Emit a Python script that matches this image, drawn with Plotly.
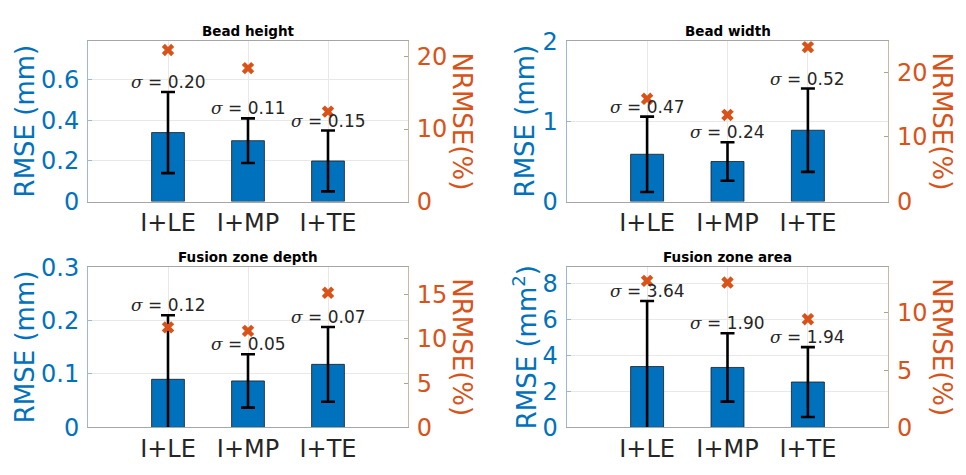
import plotly.graph_objects as go

categories = ["I+LE", "I+MP", "I+TE"]
titles = ["Bead height", "Bead width", "Fusion zone depth", "Fusion zone area"]
left_titles = ["RMSE (mm)", "RMSE (mm)", "RMSE (mm)", "RMSE (mm<sup>2</sup>)"]
right_title = "NRMSE(%)"

rmse_height = [0.34, 0.30, 0.20]
sigma_height = [0.20, 0.11, 0.15]
nrmse_height = [20.9, 18.4, 12.4]

rmse_width = [0.59, 0.50, 0.89]
sigma_width = [0.47, 0.24, 0.52]
nrmse_width = [15.9, 13.4, 23.9]

rmse_depth = [0.090, 0.087, 0.118]
sigma_depth = [0.12, 0.05, 0.07]
nrmse_depth = [11.3, 10.9, 15.2]

rmse_area = [3.38, 3.33, 2.52]
sigma_area = [3.64, 1.90, 1.94]
nrmse_area = [12.8, 12.65, 9.45]

left_ranges = [[0, 0.79], [0, 2], [0, 0.3], [0, 8.9]]
left_ticks = [[0, 0.2, 0.4, 0.6], [0, 1, 2], [0, 0.1, 0.2, 0.3], [0, 2, 4, 6, 8]]
right_ranges = [[0, 22.1], [0, 24.8], [0, 18.1], [0, 14.0]]
right_ticks = [[0, 10, 20], [0, 10, 20], [0, 5, 10, 15], [0, 5, 10]]

rmse = [rmse_height, rmse_width, rmse_depth, rmse_area]
sigma = [sigma_height, sigma_width, sigma_depth, sigma_area]
nrmse = [nrmse_height, nrmse_width, nrmse_depth, nrmse_area]

W, H = 966, 475
BLUE = "#0072BD"
ORANGE = "#D95319"
DARK = "#262626"

# plot areas in pixels (left, right, top, bottom)
boxes = [(88, 408, 29, 199.3), (566.7, 888.3, 29, 199.3),
         (88, 408, 269, 439.3), (566.7, 888.3, 269, 439.3)]
title_y = [18, 18, 258.5, 258.5]
left_title_x = [25, 525, 25, 525]
right_title_x = [462, 942, 462, 942]

fig = go.Figure()
layout = dict(width=W, height=H, margin=dict(l=0, r=0, t=0, b=0), autosize=False,
              paper_bgcolor="white", plot_bgcolor="white", showlegend=False,
              bargap=0.59, annotations=[])

for i in range(4):
    n = i + 1
    xa = "x" if n == 1 else f"x{n}"
    yl = "y" if n == 1 else f"y{2*i+1}"
    yr = f"y{2*i+2}"
    l, r, t, b = boxes[i]
    xdom = [l / W, r / W]
    ydom = [1 - b / H, 1 - t / H]

    fig.add_trace(go.Bar(
        x=categories, y=rmse[i], xaxis=xa, yaxis=yl,
        marker=dict(color=BLUE, line=dict(color="#1a1a1a", width=0.8)),
        error_y=dict(type="data", array=sigma[i], color="black", thickness=2.6, width=7),
    ))
    fig.add_trace(go.Scatter(
        x=categories, y=nrmse[i], xaxis=xa, yaxis=yr, mode="markers",
        marker=dict(symbol="x", size=11, color=ORANGE, line=dict(width=0)),
    ))

    xkey = "xaxis" if n == 1 else f"xaxis{n}"
    ylkey = "yaxis" if n == 1 else f"yaxis{2*i+1}"
    yrkey = f"yaxis{2*i+2}"
    layout[xkey] = dict(domain=xdom, anchor=yl, type="category", range=[-1, 3],
                        showline=True, mirror=True, linecolor="#a6a6a6", linewidth=1,
                        showgrid=True, gridcolor="#e8e8e8", ticks="",
                        tickfont=dict(family="DejaVu Sans", size=24, color=DARK),
                        fixedrange=True)
    layout[ylkey] = dict(domain=ydom, anchor=xa, range=left_ranges[i], tickvals=left_ticks[i],
                         showline=True, linecolor="#9fb7cc", linewidth=1,
                         showgrid=True, gridcolor="#e8e8e8", zeroline=False,
                         ticks="inside", ticklen=4, tickcolor="#9fb7cc",
                         ticklabelstandoff=3,
                         tickfont=dict(family="DejaVu Sans", size=24, color=BLUE))
    layout[yrkey] = dict(overlaying=yl, side="right", anchor=xa, range=right_ranges[i],
                         tickvals=right_ticks[i], showline=True, linecolor="#c9b8a6",
                         linewidth=1, showgrid=False, zeroline=False,
                         ticks="inside", ticklen=4, tickcolor="#b0a090",
                         ticklabelstandoff=3,
                         tickfont=dict(family="DejaVu Sans", size=24, color=ORANGE))

    ann = layout["annotations"]
    ann.append(dict(text=f"<b>{titles[i]}</b>", xref="paper", yref="paper",
                    x=(l + r) / 2 / W, y=1 - title_y[i] / H, showarrow=False,
                    xanchor="center", yanchor="middle",
                    font=dict(family="DejaVu Sans", size=13.5, color="black")))
    ann.append(dict(text=left_titles[i], xref="paper", yref="paper",
                    x=left_title_x[i] / W, y=1 - (t + b) / 2 / H, textangle=-90,
                    showarrow=False, xanchor="center", yanchor="middle",
                    font=dict(family="DejaVu Sans", size=26, color=BLUE)))
    ann.append(dict(text=right_title, xref="paper", yref="paper",
                    x=right_title_x[i] / W, y=1 - (t + b) / 2 / H, textangle=90,
                    showarrow=False, xanchor="center", yanchor="middle",
                    font=dict(family="DejaVu Sans", size=26, color=ORANGE)))
    for c, v, s in zip(categories, rmse[i], sigma[i]):
        ann.append(dict(text=f"<span style='font-family:DejaVu Serif'><i>σ</i></span> = {s:.2f}",
                        xref=xa, yref=yl,
                        x=c, y=v + s, showarrow=False, xanchor="center",
                        yanchor="bottom", yshift=-2,
                        font=dict(family="DejaVu Sans", size=17, color=DARK)))

fig.update_layout(**layout)
fig.write_html("out.html", config={"displayModeBar": False},
               post_script="document.body.style.margin='0';document.body.style.overflow='hidden';")
